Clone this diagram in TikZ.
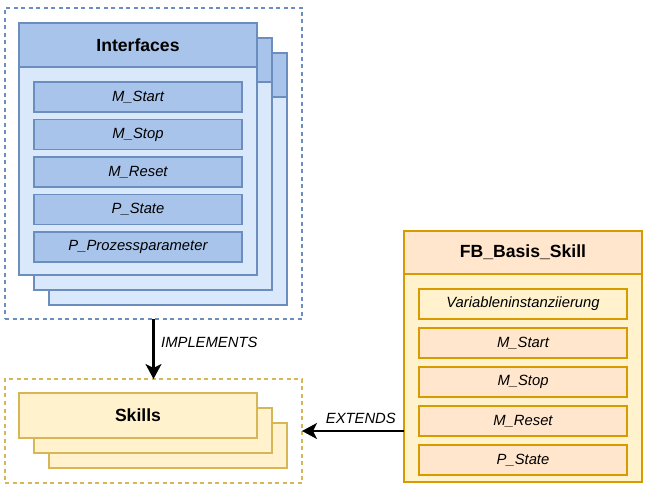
\documentclass[tikz,border=0pt]{standalone}
\usepackage{fontspec}
\setmainfont{Liberation Sans}
\usetikzlibrary{arrows.meta}
\definecolor{bstroke}{HTML}{6C8EBF}
\definecolor{bhead}{HTML}{A9C4EB}
\definecolor{bbody}{HTML}{DAE8FC}
\definecolor{ystroke}{HTML}{D6B656}
\definecolor{yfill}{HTML}{FFF2CC}
\definecolor{ostroke}{HTML}{D79B00}
\definecolor{ofill}{HTML}{FFE6CC}
\tikzset{
  box/.style={draw, line width=1.4pt, inner sep=0pt, outer sep=0pt, anchor=north west},
  bcard/.style={box, draw=bstroke, fill=bbody, minimum width=238pt, minimum height=252pt},
  bheadbox/.style={box, draw=bstroke, fill=bhead, minimum width=238pt, minimum height=44pt, font=\fontsize{17.6}{20}\selectfont\bfseries},
  bitem/.style={box, draw=bstroke, fill=bhead, minimum width=208pt, minimum height=30pt, font=\fontsize{14.8}{17}\selectfont\itshape},
  scard/.style={box, draw=ystroke, fill=yfill, minimum width=238pt, minimum height=45pt, font=\fontsize{17.6}{20}\selectfont\bfseries},
  frame/.style={box, dash pattern=on 4pt off 3.5pt, line width=1.4pt, minimum width=297pt},
  fbbody/.style={box, draw=ostroke, fill=yfill, minimum width=238pt, minimum height=251pt},
  fbhead/.style={box, draw=ostroke, fill=ofill, minimum width=238pt, minimum height=43pt, font=\fontsize{17.6}{20}\selectfont\bfseries},
  oitem/.style={box, draw=ostroke, fill=ofill, minimum width=208pt, minimum height=30pt, font=\fontsize{14.8}{17}\selectfont\itshape},
  lbl/.style={inner sep=0pt, font=\fontsize{14.8}{17}\selectfont\itshape},
  conn/.style={line width=2.2pt, -{Stealth[length=15pt,width=16pt,inset=4pt]}}
}
\begin{document}
\begin{tikzpicture}[x=1pt,y=-1pt]
\useasboundingbox (0,0) rectangle (648,494);
% Interfaces frame
\node[frame, draw=bstroke, minimum height=311pt] (ifrm) at (5,8) {};
\node[bcard] (ib3) at (49,53) {};
\node[bheadbox] (ih3) at (49,53) {};
\node[bcard] (ib2) at (34,38) {};
\node[bheadbox] (ih2) at (34,38) {};
\node[bcard] (ib1) at (19,23) {};
\node[bheadbox] (ih1) at (19,23) {Interfaces};
\node[bitem] (i1) at (34,82) {M\_Start};
\node[bitem] (i2) at (34,119.5) {M\_Stop};
\node[bitem] (i3) at (34,157) {M\_Reset};
\node[bitem] (i4) at (34,194.5) {P\_State};
\node[bitem] (i5) at (34,232) {P\_Prozessparameter};
% Skills frame
\node[frame, draw=ystroke, minimum height=104pt] (sfrm) at (5,379) {};
\node[scard] (s3) at (49,423) {};
\node[scard] (s2) at (34,408) {};
\node[scard] (s1) at (19,393) {Skills};
% FB_Basis_Skill
\node[fbbody] (fb) at (404,231) {};
\node[fbhead] (fbh) at (404,231) {FB\_Basis\_Skill};
\node[oitem, fill=yfill] (f1) at (419,289) {Variableninstanziierung};
\node[oitem] (f2) at (419,328) {M\_Start};
\node[oitem] (f3) at (419,367) {M\_Stop};
\node[oitem] (f4) at (419,406) {M\_Reset};
\node[oitem] (f5) at (419,445) {P\_State};
% connectors
\draw[conn] (ifrm.south) -- (sfrm.north);
\node[lbl, anchor=west] (limpl) at (161,342) {IMPLEMENTS};
\draw[conn] (fb.west |- sfrm.east) -- (sfrm.east);
\node[lbl, anchor=east] (lext) at (396,418) {EXTENDS};
\end{tikzpicture}
\end{document}
